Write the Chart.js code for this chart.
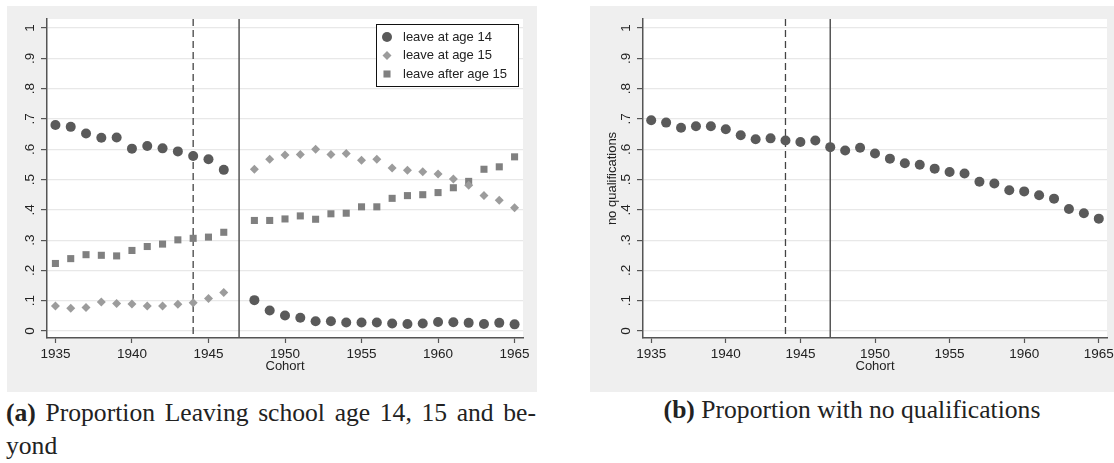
<!DOCTYPE html>
<html>
<head>
<meta charset="utf-8">
<script src="https://cdn.jsdelivr.net/npm/chart.js@4.4.1/dist/chart.umd.min.js"></script>
<style>
  body { margin: 0; background: #fff; width: 1114px; height: 463px; position: relative; overflow: hidden;
         font-family: "Liberation Serif", "Times New Roman", serif; color: #222; }
  .panel { position: absolute; top: 6px; height: 386px; background: #efefef; }
  #panelA { left: 7px; width: 530px; }
  #panelB { left: 590px; width: 524px; }
  .cap { position: absolute; font-size: 25.6px; line-height: 25px; white-space: nowrap; }
  #capA1 { left: 6px; top: 400px; width: 530px; text-align: justify; text-align-last: justify; white-space: normal; }
  #capA2 { left: 6px; top: 433px; }
  #capB { left: 590px; width: 524px; top: 397px; text-align: center; }
</style>
</head>
<body>
<div class="panel" id="panelA"><canvas id="chartA" width="530" height="386"></canvas></div>
<div class="panel" id="panelB"><canvas id="chartB" width="524" height="386"></canvas></div>
<div class="cap" id="capA1"><b>(a)</b> Proportion Leaving school age 14, 15 and be-</div>
<div class="cap" id="capA2">yond</div>
<div class="cap" id="capB"><b>(b)</b> Proportion with no qualifications</div>

<script>
// ---- data ----
const cohortsA = [1935, 1936, 1937, 1938, 1939, 1940, 1941, 1942, 1943, 1944, 1945, 1946,
                  1948, 1949, 1950, 1951, 1952, 1953, 1954, 1955, 1956, 1957, 1958, 1959,
                  1960, 1961, 1962, 1963, 1964, 1965];
const leave14 = [.680, .674, .652, .638, .639, .602, .611, .603, .593, .578, .567, .532,
                 .102, .068, .051, .044, .032, .032, .028, .028, .028, .025, .023, .025,
                 .030, .029, .027, .023, .027, .022];
const leave15 = [.083, .075, .078, .096, .091, .089, .083, .083, .088, .093, .107, .127,
                 .534, .567, .581, .583, .600, .583, .586, .564, .567, .538, .531, .526,
                 .518, .502, .481, .447, .432, .407];
const leaveAfter15 = [.223, .239, .252, .250, .248, .266, .279, .287, .301, .306, .310, .326,
                      .365, .365, .370, .380, .369, .387, .389, .410, .410, .438, .447, .450,
                      .457, .473, .494, .534, .542, .575];

const cohortsB = [1935, 1936, 1937, 1938, 1939, 1940, 1941, 1942, 1943, 1944, 1945, 1946, 1947,
                  1948, 1949, 1950, 1951, 1952, 1953, 1954, 1955, 1956, 1957, 1958, 1959,
                  1960, 1961, 1962, 1963, 1964, 1965];
const noQual = [.696, .688, .671, .676, .676, .666, .646, .633, .636, .629, .624, .629, .607,
                .596, .605, .586, .569, .554, .549, .536, .525, .520, .493, .487, .465,
                .461, .448, .437, .403, .389, .371];

const xTicks = [1935, 1940, 1945, 1950, 1955, 1960, 1965];
const yTicks = [0, .1, .2, .3, .4, .5, .6, .7, .8, .9, 1];
const yTickLabels = ['0', '.1', '.2', '.3', '.4', '.5', '.6', '.7', '.8', '.9', '1'];
const dashedYear = 1944;
const solidYear = 1947;

const toPoints = (xs, ys) => xs.map((x, i) => ({ x: x, y: ys[i] }));

const AXIS = '#555';
const TEXT = '#222';
const SANS = '"Liberation Sans", Arial, sans-serif';

// white plot area + the two cohort reference lines
const plotBg = {
  id: 'plotBg',
  beforeDraw(chart) {
    const { ctx, chartArea: a } = chart;
    ctx.save();
    ctx.fillStyle = '#fff';
    ctx.fillRect(a.left, a.top, a.right - a.left, a.bottom - a.top);
    ctx.restore();
  },
  beforeDatasetsDraw(chart) {
    const { ctx, chartArea: a, scales } = chart;
    const xd = scales.x.getPixelForValue(dashedYear);
    const xs = scales.x.getPixelForValue(solidYear);
    ctx.save();
    ctx.strokeStyle = '#444';
    ctx.lineWidth = 1.3;
    ctx.setLineDash([7, 4]);
    ctx.beginPath(); ctx.moveTo(xd, a.top); ctx.lineTo(xd, a.bottom); ctx.stroke();
    ctx.setLineDash([]);
    ctx.strokeStyle = AXIS;
    ctx.lineWidth = 1.5;
    ctx.beginPath(); ctx.moveTo(xs, a.top); ctx.lineTo(xs, a.bottom); ctx.stroke();
    ctx.restore();
  }
};

// boxed legend in the upper right of the plot region
const boxLegend = {
  id: 'boxLegend',
  afterDraw(chart, args, opts) {
    if (!opts.show) return;
    const { ctx, chartArea: a } = chart;
    const w = 143, h = 63;
    const x0 = a.right - 4 - w, y0 = a.top + 5;
    ctx.save();
    ctx.fillStyle = '#fff';
    ctx.fillRect(x0, y0, w, h);
    ctx.strokeStyle = '#111';
    ctx.lineWidth = 1;
    ctx.strokeRect(x0 + 0.5, y0 + 0.5, w - 1, h - 1);
    chart.data.datasets.forEach((ds, i) => {
      const cy = y0 + 13 + i * 18.5;
      ctx.fillStyle = ds.backgroundColor;
      Chart.helpers.drawPoint(ctx, { pointStyle: ds.pointStyle, radius: ds.pointRadius, borderWidth: 0 }, x0 + 11, cy);
      ctx.fillStyle = TEXT;
      ctx.font = '13px ' + SANS;
      ctx.textBaseline = 'middle';
      ctx.fillText(ds.label, x0 + 27, cy);
    });
    ctx.restore();
  }
};

function makeOptions(yWidth, rightPad, yTitle, showLegend) {
  return {
    responsive: false,
    animation: false,
    layout: { padding: { left: 0, top: 13, right: rightPad, bottom: 0 } },
    plugins: {
      legend: { display: false },
      tooltip: { enabled: false },
      boxLegend: { show: showLegend }
    },
    scales: {
      x: {
        type: 'linear',
        min: 1934.45,
        max: 1965.55,
        afterBuildTicks: (s) => { s.ticks = xTicks.map(v => ({ value: v })); },
        afterFit: (s) => { s.height = 54; s.paddingLeft = 0; s.paddingRight = 0; },
        grid: { drawOnChartArea: false, drawTicks: true, tickLength: 5, tickColor: AXIS, tickWidth: 1.2 },
        border: { color: AXIS, width: 1.5 },
        ticks: {
          autoSkip: false, maxRotation: 0, padding: 3, color: TEXT,
          font: { family: SANS, size: 13.5 },
          callback: (v) => String(v)
        },
        title: {
          display: true, text: 'Cohort', color: TEXT,
          font: { family: SANS, size: 13 }, padding: { top: 0, bottom: 17.5 }
        }
      },
      y: {
        type: 'linear',
        min: -0.023,
        max: 1.03,
        afterBuildTicks: (s) => { s.ticks = yTicks.map(v => ({ value: v })); },
        afterFit: (s) => { s.width = yWidth; s.paddingTop = 0; s.paddingBottom = 0; },
        grid: { color: '#e8e8e8', lineWidth: 1.2, drawTicks: true, tickLength: 6, tickColor: AXIS, tickWidth: 1.2 },
        border: { color: AXIS, width: 1.5 },
        ticks: {
          minRotation: 90, maxRotation: 90, crossAlign: 'center', padding: 5, color: TEXT,
          font: { family: SANS, size: 13.5 },
          callback: (v) => yTickLabels[yTicks.indexOf(v)]
        },
        title: {
          display: !!yTitle, text: yTitle || '', color: TEXT,
          font: { family: SANS, size: 13 }, padding: { top: 14.7, bottom: 0 }
        }
      }
    }
  };
}

new Chart(document.getElementById('chartA'), {
  type: 'scatter',
  data: {
    datasets: [
      { label: 'leave at age 14', data: toPoints(cohortsA, leave14), pointStyle: 'circle', pointRadius: 5,
        backgroundColor: '#5a5a5a', borderWidth: 0 },
      { label: 'leave at age 15', data: toPoints(cohortsA, leave15), pointStyle: 'rectRot', pointRadius: 4.5,
        backgroundColor: '#9c9c9c', borderWidth: 0 },
      { label: 'leave after age 15', data: toPoints(cohortsA, leaveAfter15), pointStyle: 'rect', pointRadius: 5,
        backgroundColor: '#808080', borderWidth: 0 }
    ]
  },
  options: makeOptions(40, 14, '', true),
  plugins: [plotBg, boxLegend]
});

new Chart(document.getElementById('chartB'), {
  type: 'scatter',
  data: {
    datasets: [
      { label: 'no qualifications', data: toPoints(cohortsB, noQual), pointStyle: 'circle', pointRadius: 5,
        backgroundColor: '#5a5a5a', borderWidth: 0 }
    ]
  },
  options: makeOptions(53, 7, 'no qualifications', false),
  plugins: [plotBg, boxLegend]
});
</script>
</body>
</html>
